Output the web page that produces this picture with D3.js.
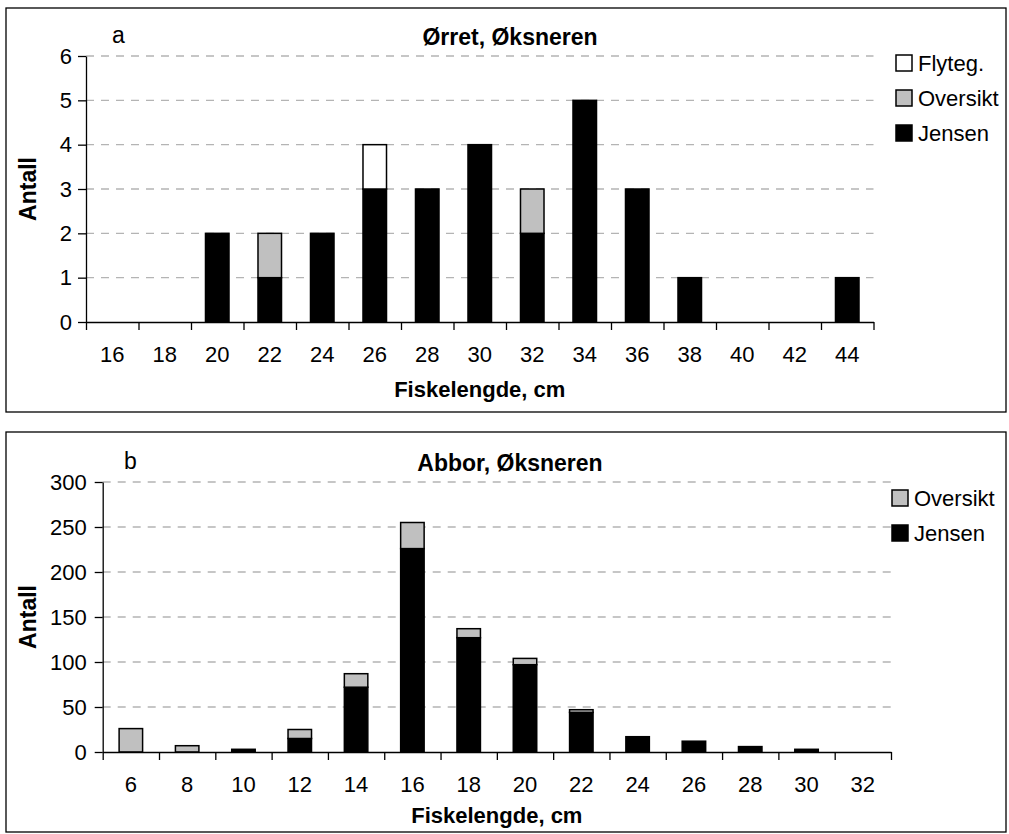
<!DOCTYPE html>
<html>
<head>
<meta charset="utf-8">
<script src="https://cdn.jsdelivr.net/npm/d3@7"></script>
<style>
  body { margin: 0; background: #fff; }
  svg { display: block; font-family: "Liberation Sans", Arial, sans-serif; }
  .tick text { font-size: 22px; fill: #000; }
</style>
</head>
<body>
<div id="chart"></div>
<script>
// Panel a - Ørret
const lengthsA = [16, 18, 20, 22, 24, 26, 28, 30, 32, 34, 36, 38, 40, 42, 44];
const jensenA = [0, 0, 2, 1, 2, 3, 3, 4, 2, 5, 3, 1, 0, 0, 1];
const oversiktA = [0, 0, 0, 1, 0, 0, 0, 0, 1, 0, 0, 0, 0, 0, 0];
const flytegA = [0, 0, 0, 0, 0, 1, 0, 0, 0, 0, 0, 0, 0, 0, 0];
const yTicksA = [0, 1, 2, 3, 4, 5, 6];

// Panel b - Abbor
const lengthsB = [6, 8, 10, 12, 14, 16, 18, 20, 22, 24, 26, 28, 30, 32];
const jensenB = [0, 0, 3, 15, 72, 226, 127, 97, 44, 17, 12, 6, 3, 0];
const oversiktB = [26, 7, 0, 10, 15, 29, 10, 7, 3, 0, 0, 0, 0, 0];
const yTicksB = [0, 50, 100, 150, 200, 250, 300];

const fills = { Jensen: "#000", Oversikt: "#c0c0c0", "Flyteg.": "#fff" };
const formatTick = d3.format("d");

const svg = d3
  .select("#chart")
  .append("svg")
  .attr("width", 1009)
  .attr("height", 834);

function drawPanel(p) {
  const g = svg.append("g");

  // Frame
  g.append("rect")
    .attr("x", p.frame[0])
    .attr("y", p.frame[1])
    .attr("width", p.frame[2])
    .attr("height", p.frame[3])
    .style("fill", "none")
    .style("stroke", "#000")
    .style("stroke-width", 1.3);

  // Scales
  const x = d3
    .scaleBand()
    .domain(p.lengths)
    .range(p.xRange)
    .paddingInner(p.pad)
    .paddingOuter(p.pad / 2);
  const xEdge = d3.scaleLinear().domain([0, p.lengths.length]).range(p.xRange);
  const y = d3.scaleLinear().domain([0, d3.max(p.yTicks)]).range(p.yRange);

  // Gridlines
  g.append("g")
    .selectAll("line")
    .data(p.yTicks.filter((t) => t > 0))
    .enter()
    .append("line")
    .attr("x1", p.xRange[0])
    .attr("x2", p.xRange[1])
    .attr("y1", (d) => y(d))
    .attr("y2", (d) => y(d))
    .style("stroke", "#b4b4b4")
    .style("stroke-width", 1.3)
    .style("stroke-dasharray", "8,7");

  // Stacked bars
  const rows = p.lengths.map((len, i) => {
    const r = { len: len };
    p.series.forEach((s) => (r[s.name] = s.values[i]));
    return r;
  });
  const stack = d3.stack().keys(p.series.map((s) => s.name))(rows);

  g.append("g")
    .selectAll("g")
    .data(stack)
    .enter()
    .append("g")
    .style("fill", (d) => fills[d.key])
    .selectAll("rect")
    .data((d) => d.filter((v) => v[1] - v[0] > 0))
    .enter()
    .append("rect")
    .attr("x", (d) => x(d.data.len))
    .attr("y", (d) => y(d[1]))
    .attr("width", x.bandwidth())
    .attr("height", (d) => y(d[0]) - y(d[1]))
    .style("stroke", "#000")
    .style("stroke-width", 1.5);

  // Axes
  const base = p.yRange[0];
  g.append("g")
    .attr("transform", "translate(" + p.xRange[0] + ",0)")
    .call(
      d3.axisLeft(y)
        .tickValues(p.yTicks)
        .tickFormat(formatTick)
        .tickSize(8)
        .tickSizeOuter(0)
        .tickPadding(p.yPad)
    )
    .call((a) => a.selectAll("line, path").style("stroke", "#000").style("stroke-width", 1.3));

  g.append("g")
    .attr("transform", "translate(0," + base + ")")
    .call(
      d3.axisBottom(xEdge)
        .tickValues(d3.range(p.lengths.length + 1))
        .tickSize(8)
        .tickSizeOuter(0)
        .tickFormat("")
    )
    .call((a) => a.selectAll("line, path").style("stroke", "#000").style("stroke-width", 1.3));

  g.append("g")
    .attr("transform", "translate(0," + base + ")")
    .call(d3.axisBottom(x).tickSize(0).tickPadding(24))
    .call((a) => a.select(".domain").remove());

  // Labels
  g.append("text")
    .attr("x", p.titleX)
    .attr("y", p.titleY)
    .attr("text-anchor", "middle")
    .style("font-size", "23px")
    .style("font-weight", "bold")
    .text(p.title);

  g.append("text")
    .attr("x", p.tagX)
    .attr("y", p.titleY - 2)
    .style("font-size", "23px")
    .text(p.tag);

  g.append("text")
    .attr("x", (p.xRange[0] + p.xRange[1]) / 2)
    .attr("y", base + p.xLabelDy)
    .attr("text-anchor", "middle")
    .style("font-size", "22px")
    .style("font-weight", "bold")
    .text("Fiskelengde, cm");

  g.append("text")
    .attr("transform", "translate(36," + (p.yRange[0] + p.yRange[1]) / 2 + ") rotate(-90)")
    .attr("text-anchor", "middle")
    .style("font-size", "23px")
    .style("font-weight", "bold")
    .text("Antall");

  // Legend (top series first)
  const leg = g
    .append("g")
    .selectAll("g")
    .data(p.series.map((s) => s.name).reverse())
    .enter()
    .append("g")
    .attr("transform", (d, i) => "translate(" + p.legX + "," + (p.legY + i * 35) + ")");

  leg.append("rect")
    .attr("x", 0)
    .attr("y", -8)
    .attr("width", 16)
    .attr("height", 16)
    .style("fill", (d) => fills[d])
    .style("stroke", "#000")
    .style("stroke-width", 1.5);

  leg.append("text")
    .attr("x", 22)
    .attr("y", 8)
    .style("font-size", "22px")
    .text((d) => d);
}

drawPanel({
  frame: [6, 8, 1000, 404],
  lengths: lengthsA,
  series: [
    { name: "Jensen", values: jensenA },
    { name: "Oversikt", values: oversiktA },
    { name: "Flyteg.", values: flytegA },
  ],
  yTicks: yTicksA,
  xRange: [86, 873.5],
  yRange: [322, 56],
  pad: 0.552,
  yPad: 6,
  xLabelDy: 75,
  title: "Ørret, Øksneren",
  titleX: 510,
  titleY: 45,
  tag: "a",
  tagX: 112,
  legX: 896,
  legY: 63,
});

drawPanel({
  frame: [6, 432, 1000, 400],
  lengths: lengthsB,
  series: [
    { name: "Jensen", values: jensenB },
    { name: "Oversikt", values: oversiktB },
  ],
  yTicks: yTicksB,
  xRange: [102.7, 891],
  yRange: [752, 482],
  pad: 0.583,
  yPad: 8,
  xLabelDy: 71,
  title: "Abbor, Øksneren",
  titleX: 510,
  titleY: 471,
  tag: "b",
  tagX: 124,
  legX: 892,
  legY: 498,
});
</script>
</body>
</html>
